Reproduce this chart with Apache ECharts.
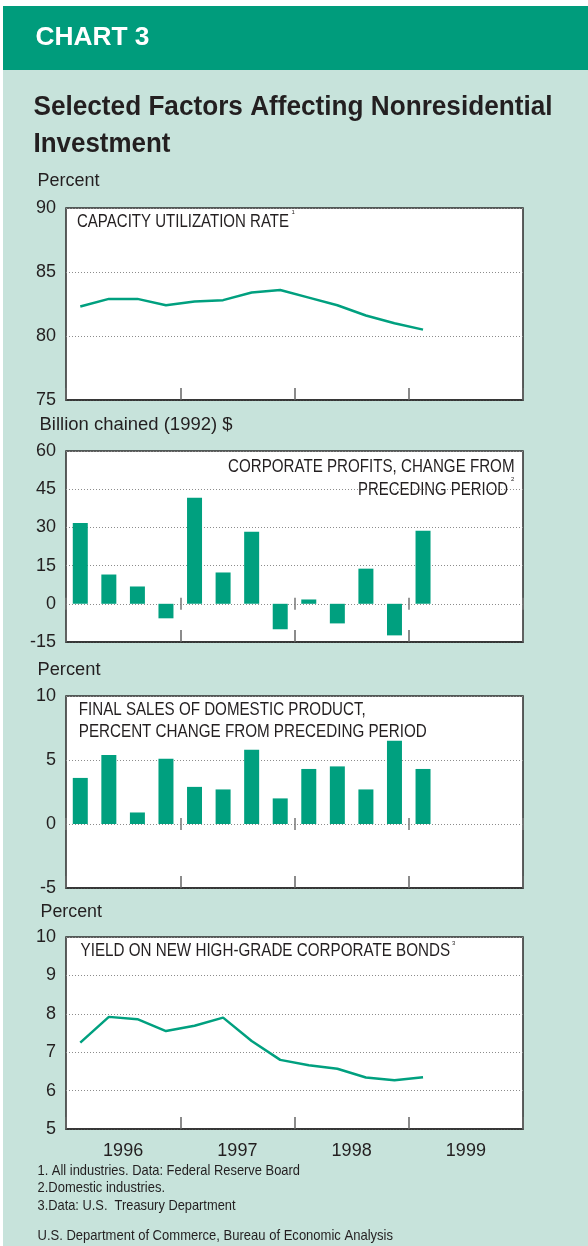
<!DOCTYPE html>
<html>
<head>
<meta charset="utf-8">
<script src="https://cdn.jsdelivr.net/npm/echarts@6/dist/echarts.min.js"></script>
<style>
  html, body { margin: 0; padding: 0; background: #fff; }
  #main { width: 588px; height: 1246px; }
</style>
</head>
<body>
<div id="main"></div>
<script>
  // quarters on the shared time axis, 1996 Q1 .. 1999 Q4
  const quarters = ['96Q1','96Q2','96Q3','96Q4','97Q1','97Q2','97Q3','97Q4',
                    '98Q1','98Q2','98Q3','98Q4','99Q1','99Q2','99Q3','99Q4'];
  const years = ['1996', '1997', '1998', '1999'];

  // series (last value is 1999 Q1)
  const capacity   = [82.3, 82.9, 82.9, 82.4, 82.7, 82.8, 83.4, 83.6, 83.0, 82.4, 81.6, 81.0, 80.5];
  const profits    = [31.7, 11.5, 6.8, -5.7, 41.6, 12.3, 28.3, -10.0, 1.7, -7.7, 13.8, -12.4, 28.7];
  const finalSales = [3.6, 5.4, 0.9, 5.1, 2.9, 2.7, 5.8, 2.0, 4.3, 4.5, 2.7, 6.5, 4.3];
  const bondYield  = [7.25, 7.92, 7.86, 7.55, 7.69, 7.90, 7.29, 6.80, 6.66, 6.57, 6.34, 6.27, 6.35];

  // y scales: [min, max, step]
  const capacityTicks = [75, 90, 5];
  const profitTicks   = [-15, 60, 15];
  const salesTicks    = [-5, 10, 5];
  const yieldTicks    = [5, 10, 1];

  const ink = '#231F20';
  const green = '#00A07F';
  const fam = '"Liberation Sans", Arial, Helvetica, sans-serif';

  // squeeze text horizontally to look like the narrow face of the original
  const mctx = document.createElement('canvas').getContext('2d');
  function squeeze(text, size, weight, width) {
    mctx.font = weight + ' ' + size + 'px ' + fam;
    return width / mctx.measureText(text).width;
  }
  function txt(text, x, y, size, weight, width, align, color) {
    return {
      type: 'text', x: x, y: y, z: 10,
      scaleX: width ? squeeze(text, size, weight, width) : 1,
      style: {
        text: text, x: 0, y: 0, fill: color || ink,
        fontSize: size, fontWeight: weight, fontFamily: fam,
        align: align || 'left', verticalAlign: 'middle'
      }
    };
  }

  const grids = [
    { left: 66, width: 457, top: 208, height: 192 },
    { left: 66, width: 457, top: 451, height: 191 },
    { left: 66, width: 457, top: 696, height: 192 },
    { left: 66, width: 457, top: 937, height: 192 }
  ].map(g => Object.assign(g, {
    show: true, backgroundColor: '#fff', borderColor: '#2b2b2b', borderWidth: 1.5, z: 0
  }));

  function bottomAxis(gi) {
    return {
      type: 'category', gridIndex: gi, data: quarters, position: 'bottom',
      axisLine: { show: true, onZero: false, lineStyle: { color: '#2b2b2b', width: 1.5 } },
      axisTick: { show: true, interval: 3, inside: true, length: 12, lineStyle: { color: '#666', width: 1.5 } },
      axisLabel: { show: false }, splitLine: { show: false }
    };
  }
  // short year marks crossing the zero line
  function zeroAxis(gi, yi, pos) {
    return {
      type: 'category', gridIndex: gi, data: quarters, position: pos,
      axisLine: { show: true, onZero: true, onZeroAxisIndex: yi, lineStyle: { opacity: 0 } },
      axisTick: { show: true, interval: 3, inside: true, length: 6, lineStyle: { color: '#777', width: 1.5 } },
      axisLabel: { show: false }, splitLine: { show: false }
    };
  }
  function valAxis(gi, t) {
    return {
      type: 'value', gridIndex: gi, min: t[0], max: t[1], interval: t[2],
      axisLine: { show: false }, axisTick: { show: false },
      axisLabel: { color: ink, fontSize: 18, fontFamily: fam, margin: 10 },
      splitLine: { show: true, lineStyle: { color: '#8c8c8c', width: 1, type: [1, 2] } }
    };
  }

  const xAxes = [
    bottomAxis(0),                                   // 0
    bottomAxis(1), zeroAxis(1, 1, 'top'), zeroAxis(1, 1, 'bottom'), // 1,2,3
    bottomAxis(2), zeroAxis(2, 2, 'top'), zeroAxis(2, 2, 'bottom'), // 4,5,6
    bottomAxis(3),                                   // 7
    {                                                // 8: year labels
      type: 'category', gridIndex: 3, data: years, position: 'bottom',
      axisLine: { show: false, onZero: false }, axisTick: { show: false },
      axisLabel: { color: ink, fontSize: 18, fontFamily: fam, margin: 13 },
      splitLine: { show: false }
    }
  ];

  const graphics = [
    { type: 'rect', shape: { x: 3, y: 6, width: 585, height: 1240 }, style: { fill: '#C7E3DB' }, z: -20 },
    { type: 'rect', shape: { x: 3, y: 6, width: 585, height: 64 }, style: { fill: '#009C7C' }, z: -10 },
    txt('CHART 3', 35.5, 38, 25, 'bold', 114, 'left', '#fff'),
    txt('Selected Factors Affecting Nonresidential', 33.5, 107.5, 28, 'bold', 519),
    txt('Investment', 33.5, 144.5, 28, 'bold', 137),
    txt('Percent', 37.5, 181, 17.5, 'normal', 62),
    txt('CAPACITY UTILIZATION RATE', 77, 222, 17.5, 'normal', 212),
    txt('1', 291.5, 212, 6, 'normal'),
    txt('Billion chained (1992) $', 39.5, 425, 18, 'normal', 193),
    txt('CORPORATE PROFITS, CHANGE FROM', 514.5, 467, 17.5, 'normal', 286.5, 'right'),
    txt('PRECEDING PERIOD', 508, 490.5, 17.5, 'normal', 150, 'right'),
    txt('2', 511, 479, 6, 'normal'),
    txt('Percent', 37.5, 670, 17.5, 'normal', 63),
    txt('FINAL SALES OF DOMESTIC PRODUCT,', 78.75, 710.5, 17.5, 'normal', 287),
    txt('PERCENT CHANGE FROM PRECEDING PERIOD', 78.75, 732, 17.5, 'normal', 348),
    txt('Percent', 40.5, 912, 17.5, 'normal', 61.5),
    txt('YIELD ON NEW HIGH-GRADE CORPORATE BONDS', 80.6, 951, 17.5, 'normal', 369.5),
    txt('3', 452, 943, 6, 'normal'),
    txt('1. All industries. Data: Federal Reserve Board', 37.5, 1170.5, 15, 'normal', 262.5),
    txt('2.Domestic industries.', 37.5, 1188, 15, 'normal', 127.5),
    txt('3.Data: U.S.  Treasury Department', 37.5, 1206, 15, 'normal', 198),
    txt('U.S. Department of Commerce, Bureau of Economic Analysis', 37.5, 1236, 15, 'normal', 355.5)
  ];

  const chart = echarts.init(document.getElementById('main'), null, { renderer: 'canvas' });
  chart.setOption({
    animation: false,
    backgroundColor: '#fff',
    graphic: { elements: graphics },
    grid: grids,
    xAxis: xAxes,
    yAxis: [valAxis(0, capacityTicks), valAxis(1, profitTicks), valAxis(2, salesTicks), valAxis(3, yieldTicks)],
    series: [
      { name: 'Capacity utilization rate', type: 'line', xAxisIndex: 0, yAxisIndex: 0,
        data: capacity, symbol: 'none', lineStyle: { color: green, width: 2.5 }, z: 5 },
      { name: 'Corporate profits', type: 'bar', xAxisIndex: 1, yAxisIndex: 1,
        data: profits, barWidth: 15, itemStyle: { color: green }, z: 5 },
      { name: 'Final sales of domestic product', type: 'bar', xAxisIndex: 4, yAxisIndex: 2,
        data: finalSales, barWidth: 15, itemStyle: { color: green }, z: 5 },
      { name: 'Yield on new high-grade corporate bonds', type: 'line', xAxisIndex: 7, yAxisIndex: 3,
        data: bondYield, symbol: 'none', lineStyle: { color: green, width: 2.5 }, z: 5 }
    ]
  });
</script>
</body>
</html>
